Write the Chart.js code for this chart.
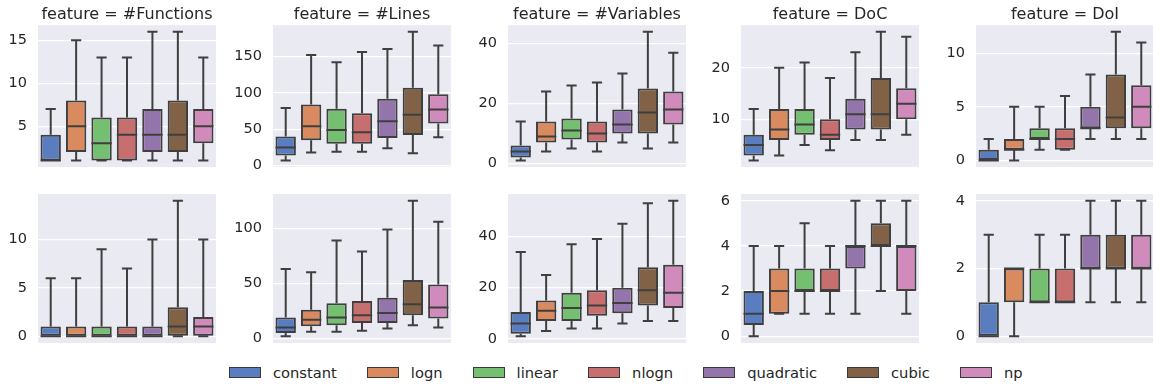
<!DOCTYPE html>
<html>
<head>
<meta charset="utf-8">
<script src="https://cdn.jsdelivr.net/npm/chart.js@4.4.0/dist/chart.umd.min.js"></script>
<style>
  body { margin: 0; background: #fff; width: 1153px; height: 387px; position: relative; overflow: hidden; font-family: 'DejaVu Sans', sans-serif; }
  canvas { position: absolute; }
  #legend { position: absolute; left: 229px; top: 362px; height: 20px; display: flex; align-items: center; font-size: 14.7px; color: #262626; white-space: nowrap; }
  #legend .item { display: flex; align-items: center; margin-right: 30px; }
  #legend .patch { width: 32px; height: 11px; box-sizing: border-box; border: 1px solid #3a3a3a; margin-right: 12px; }
</style>
</head>
<body>
<div id="legend"></div>
<script>
// categories (hue) and facet names
const categories = ['constant', 'logn', 'linear', 'nlogn', 'quadratic', 'cubic', 'np'];
const features = ['#Functions', '#Lines', '#Variables', 'DoC', 'DoI'];
const boxColors = ['#597DBF', '#D98B5F', '#75BF71', '#C76E6E', '#9475AB', '#826246', '#D08ABC'];
const lineColor = '#3f3f3f';
const textColor = '#262626';

// each entry: [lower whisker, q1, median, q3, upper whisker]
// top row
const functionsTop = [[1,1,1,4,7], [1,2,5,8,15], [1,1,3,6,13], [1,1,4,6,13], [1,2,4,7,16], [1,2,4,8,16], [1,3,5,7,13]];
const linesTop = [[7,14,25,40,79], [18,35,54,84,152], [19,30,49,78,142], [19,30,46,72,156], [24,38,61,92,160], [17,42,70,107,184], [39,58,77,98,165]];
const variablesTop = [[1,2,4,6,14], [4,7,9,14,24], [5,8,11,15,26], [4,7,10,14,27], [7,10,13,18,30], [5,10,17,25,44], [7,13,18,24,37]];
const docTop = [[2,3,5,7,12], [3,6,8,12,20], [5,7,9,12,21], [4,6,7,10,18], [6,8,11,14,23], [6,8,11,18,27], [7,10,13,16,26]];
const doiTop = [[0,0,0,1,2], [0,1,1,2,5], [1,2,2,3,5], [1,1,2,3,6], [2,3,3,5,8], [2,3,4,8,12], [2,3,5,7,11]];
// bottom row
const functionsBottom = [[0,0,0,1,6], [0,0,0,1,6], [0,0,0,1,9], [0,0,0,1,7], [0,0,0,1,10], [0,0,1,3,14], [0,0,1,2,10]];
const linesBottom = [[2,5,10,19,63], [6,11,17,26,60], [6,12,19,32,89], [7,14,21,34,79], [9,14,23,37,99], [12,21,31,53,125], [10,18,28,49,106]];
const variablesBottom = [[1,2,6,10.5,34], [3,7,11,15,25], [4,7,12,18,37], [4,9,13,19,39], [6,10,14,20,45], [7,13,19,28,53], [7,12,18,29,54]];
const docBottom = [[0,0.5,1,2,4], [1,1,2,3,4], [1,2,2,3,5], [1,2,2,3,4], [1,3,4,4,6], [2,4,4,5,6], [1,2,4,4,6]];
const doiBottom = [[0,0,0,1,3], [0,1,2,2,2], [1,1,1,2,3], [1,1,1,2,3], [1,2,2,3,4], [1,2,2,3,4], [1,2,2,3,4]];

// y tick labels per panel
const functionsTopTicks = [5, 10, 15];
const linesTopTicks = [0, 50, 100, 150];
const variablesTopTicks = [0, 20, 40];
const docTopTicks = [10, 20];
const doiTopTicks = [0, 5, 10];
const functionsBottomTicks = [0, 5, 10];
const linesBottomTicks = [0, 50, 100];
const variablesBottomTicks = [0, 20, 40];
const docBottomTicks = [0, 2, 4, 6];
const doiBottomTicks = [0, 2, 4];

const topRow = [functionsTop, linesTop, variablesTop, docTop, doiTop];
const bottomRow = [functionsBottom, linesBottom, variablesBottom, docBottom, doiBottom];
const topTicks = [functionsTopTicks, linesTopTicks, variablesTopTicks, docTopTicks, doiTopTicks];
const bottomTicks = [functionsBottomTicks, linesBottomTicks, variablesBottomTicks, docBottomTicks, doiBottomTicks];

// layout (pixels)
const plotLeft = [38, 273, 508, 741, 976];
const plotWidth = 178;
const rowTop = [25, 194];
const rowBottom = [167, 343];
const axisW = 45;
const pad = 12;

const bgPlugin = {
  id: 'bg',
  beforeDraw(chart) {
    const a = chart.chartArea;
    chart.ctx.save();
    chart.ctx.fillStyle = '#EAEAF2';
    chart.ctx.fillRect(a.left, a.top, a.right - a.left, a.bottom - a.top);
    chart.ctx.restore();
  }
};

// whiskers, caps and medians on top of the floating bars
const whiskerPlugin = {
  id: 'whiskers',
  afterDatasetsDraw(chart) {
    const ds = chart.data.datasets[0];
    const y = chart.scales.y;
    const ctx = chart.ctx;
    ctx.save();
    ctx.strokeStyle = lineColor;
    ctx.lineWidth = 2;
    chart.getDatasetMeta(0).data.forEach((bar, i) => {
      const [lo, q1, med, q3, hi] = ds.stats[i];
      const half = bar.width / 2, cap = bar.width / 4;
      const pLo = y.getPixelForValue(lo), pQ1 = y.getPixelForValue(q1);
      const pMed = y.getPixelForValue(med), pQ3 = y.getPixelForValue(q3);
      const pHi = y.getPixelForValue(hi);
      ctx.beginPath();
      ctx.moveTo(bar.x, pQ3); ctx.lineTo(bar.x, pHi);
      ctx.moveTo(bar.x, pQ1); ctx.lineTo(bar.x, pLo);
      ctx.moveTo(bar.x - cap, pHi); ctx.lineTo(bar.x + cap, pHi);
      ctx.moveTo(bar.x - cap, pLo); ctx.lineTo(bar.x + cap, pLo);
      ctx.moveTo(bar.x - half, pMed); ctx.lineTo(bar.x + half, pMed);
      ctx.stroke();
    });
    ctx.restore();
  }
};

function makePanel(stats, ticks, row, col) {
  const canvas = document.createElement('canvas');
  const top = row === 0 ? 0 : rowTop[row] - pad;
  const height = rowBottom[row] + pad - top;
  canvas.width = axisW + plotWidth;
  canvas.height = height;
  canvas.style.left = (plotLeft[col] - axisW) + 'px';
  canvas.style.top = top + 'px';
  document.body.appendChild(canvas);

  const lo = Math.min(...stats.map(s => s[0]));
  const hi = Math.max(...stats.map(s => s[4]));
  const margin = (hi - lo) * 0.05;

  return new Chart(canvas, {
    type: 'bar',
    data: {
      labels: categories,
      datasets: [{
        data: stats.map(s => [s[1], s[3]]),
        stats: stats,
        backgroundColor: boxColors,
        borderColor: lineColor,
        borderWidth: 2,
        borderSkipped: false,
        inflateAmount: 0,
        barPercentage: 0.8,
        categoryPercentage: 1
      }]
    },
    options: {
      responsive: false,
      animation: false,
      layout: { padding: { top: row === 0 ? 0 : pad, bottom: pad, left: 0, right: 0 } },
      plugins: {
        legend: { display: false },
        tooltip: { enabled: false },
        title: {
          display: row === 0,
          text: 'feature = ' + features[col],
          fullSize: false,
          color: textColor,
          font: { family: 'DejaVu Sans', size: 16, weight: 'normal' },
          padding: { top: 5, bottom: 1 }
        }
      },
      scales: {
        x: { display: false },
        y: {
          min: lo - margin,
          max: hi + margin,
          afterBuildTicks: s => { s.ticks = ticks.map(v => ({ value: v })); },
          afterFit: s => { s.width = axisW; s.paddingTop = 0; s.paddingBottom = 0; },
          grid: { color: '#ffffff', lineWidth: 1.2, drawTicks: false },
          border: { display: false },
          ticks: { color: textColor, padding: 11, font: { family: 'DejaVu Sans', size: 14.5 } }
        }
      }
    },
    plugins: [bgPlugin, whiskerPlugin]
  });
}

topRow.forEach((stats, c) => makePanel(stats, topTicks[c], 0, c));
bottomRow.forEach((stats, c) => makePanel(stats, bottomTicks[c], 1, c));

// legend
const legend = document.getElementById('legend');
categories.forEach((name, i) => {
  const item = document.createElement('div');
  item.className = 'item';
  const patch = document.createElement('span');
  patch.className = 'patch';
  patch.style.background = boxColors[i];
  const label = document.createElement('span');
  label.textContent = name;
  item.appendChild(patch);
  item.appendChild(label);
  legend.appendChild(item);
});
</script>
</body>
</html>
